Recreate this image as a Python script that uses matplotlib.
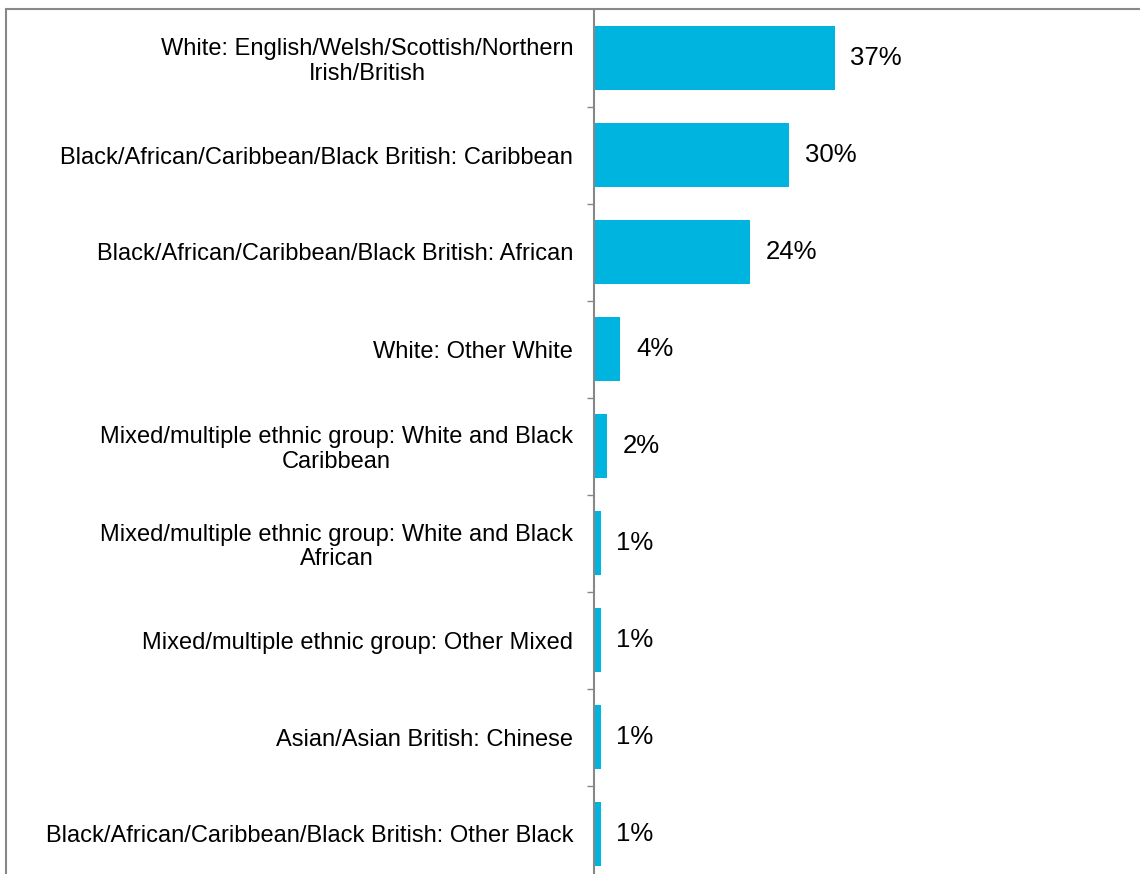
import matplotlib.pyplot as plt
import matplotlib as mpl
from matplotlib.patches import Rectangle

mpl.rcParams.update({
    "font.family": ["Liberation Sans", "DejaVu Sans"],
    "font.size": 17,
})

categories = [
    "White: English/Welsh/Scottish/Northern\nIrish/British",
    "Black/African/Caribbean/Black British: Caribbean",
    "Black/African/Caribbean/Black British: African",
    "White: Other White",
    "Mixed/multiple ethnic group: White and Black\nCaribbean",
    "Mixed/multiple ethnic group: White and Black\nAfrican",
    "Mixed/multiple ethnic group: Other Mixed",
    "Asian/Asian British: Chinese",
    "Black/African/Caribbean/Black British: Other Black",
]
shares = [37, 30, 24, 4, 2, 1, 1, 1, 1]

BAR = "#00B4E0"
GREY = "#888888"

W, H, DPI = 1140, 874, 100
fig = plt.figure(figsize=(W / DPI, H / DPI), dpi=DPI)

# plot area runs from the axis line to past the right edge, and a bit below the bottom
left_px, top_px, bottom_px = 594, 9.5, 882.5
ax = fig.add_axes([left_px / W, (H - bottom_px) / H, (W - left_px) / W, (bottom_px - top_px) / H])

ypos = list(range(len(categories)))
ax.barh(ypos, shares, height=0.67, color=BAR)
ax.set_xlim(0, (W - left_px) / 6.5)
ax.set_ylim(len(categories) - 0.5, -0.5)

for y, v in zip(ypos, shares):
    ax.annotate(f"{v}%", (v, y), xytext=(11.5, 0), textcoords="offset points",
                ha="left", va="center", fontsize=18.5, color="#000000")

ax.set_yticks(ypos)
ax.set_yticklabels(categories, fontsize=17, color="#000000", multialignment="center",
                   linespacing=1.14)
ax.tick_params(axis="y", which="major", length=0, pad=15)
ax.set_yticks([i + 0.5 for i in ypos[:-1]], minor=True)
ax.tick_params(axis="y", which="minor", length=5, width=1, color=GREY, direction="out")
ax.set_xticks([])

for s in ["top", "right", "bottom"]:
    ax.spines[s].set_visible(False)
ax.spines["left"].set_color(GREY)
ax.spines["left"].set_linewidth(1.5)

# outer chart frame (right and bottom edges fall outside the image)
frame = Rectangle((6 / W, -0.1), 1.2, (H - top_px) / H + 0.1, transform=fig.transFigure,
                  fill=False, edgecolor=GREY, linewidth=1.5)
fig.add_artist(frame)

fig.savefig("out.png", dpi=DPI)
